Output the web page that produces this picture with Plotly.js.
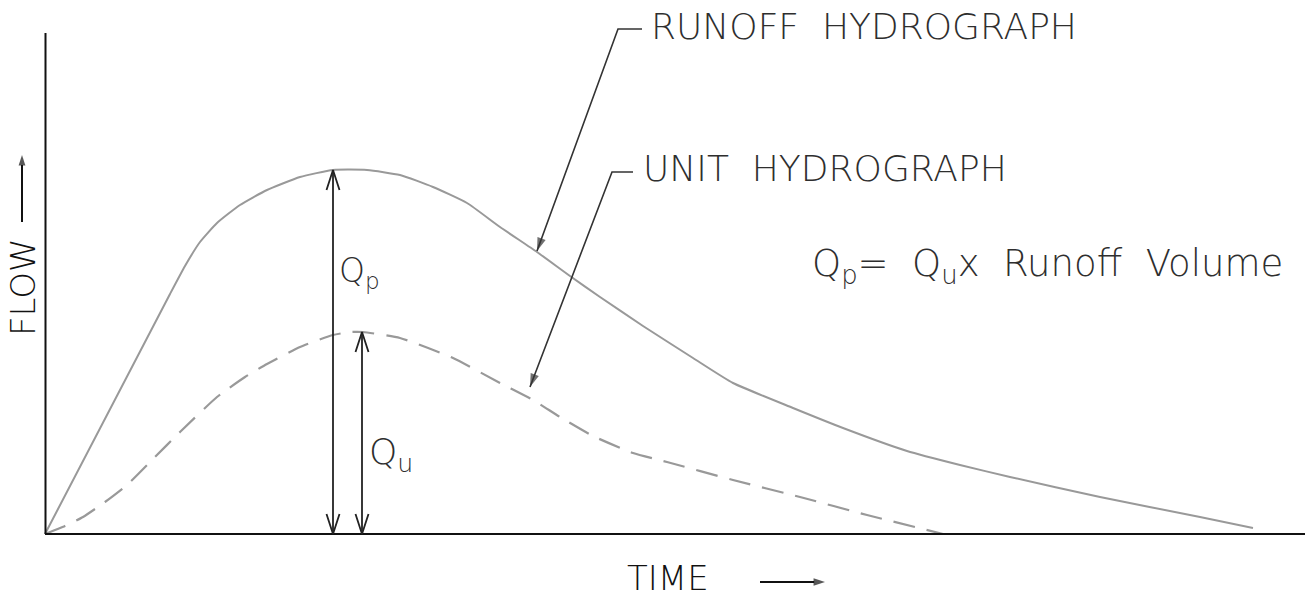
<!DOCTYPE html>
<html><head><meta charset="utf-8">
<script src="https://cdn.plot.ly/plotly-3.0.1.min.js"></script>
<style>html,body{margin:0;padding:0;background:#fff;}#chart{width:1314px;height:598px;}</style>
</head><body><div id="chart"></div>
<script>
// Runoff hydrograph (time, flow)
const runoffTime = [0, 125, 140, 155, 172, 195, 222, 255, 288, 322, 355, 388, 422, 455, 492, 525, 555, 598, 648, 688, 748, 798, 862, 915, 965, 1055, 1155, 1208];
const runoffFlow = [0, 240, 268, 292, 311, 329, 344, 357, 364, 364, 359, 347, 331, 307, 282, 258, 237, 208, 176, 151, 126, 106, 83, 69, 57, 37, 17, 6];
// Unit hydrograph (dashed)
const unitTime = [0, 20, 38, 60, 82, 108, 135, 172, 200, 222, 255, 288, 305, 318, 355, 408, 455, 488, 515, 548, 588, 622, 688, 755, 822, 898];
const unitFlow = [0, 8, 17, 32, 49, 75, 102, 137, 157, 170, 187, 199, 202, 202, 196, 176, 151, 134, 117, 98, 81, 72, 54, 37, 19, 0];
// Peak measurement positions
const qpTime = 288;
const quTime = 317;
const qpFlow = 364;
const quFlow = 202;
// Axis extents
const axisTop = 501;
const axisEnd = 1260;
// Labels
const labelRunoff = 'RUNOFF\u00a0\u00a0HYDROGRAPH';
const labelUnit = 'UNIT\u00a0\u00a0HYDROGRAPH';
const labelEq = 'Q<sub>p</sub>=\u00a0\u00a0Q<sub>u</sub>x\u00a0\u00a0Runoff\u00a0\u00a0Volume';
const labelX = 'TIME';
const labelY = 'FLOW';

const F = 'DejaVu Sans, Liberation Sans, sans-serif';
const txt = (size, color) => ({family: F, size: size, color: color || '#2e2e2e', weight: 200});
const curveColor = '#999';
const inkColor = '#222';

// open V arrowheads (tips at given points); dir +1 = pointing up
function chevrons(tips) {
  const xs = [], ys = [];
  tips.forEach(([x, y, dir]) => {
    xs.push(x - 6.5, x, x + 6.5, null);
    ys.push(y - dir * 20, y, y - dir * 20, null);
  });
  return {x: xs, y: ys, mode: 'lines', line: {color: inkColor, width: 1.8}, hoverinfo: 'skip'};
}
function leader(xs, ys, color, width, size) {
  const sizes = xs.map((_, i) => i === xs.length - 1 ? size : 0);
  return {x: xs, y: ys, mode: 'lines+markers', hoverinfo: 'skip',
    line: {color: color, width: width},
    marker: {symbol: 'arrow', angleref: 'previous', size: sizes, color: color, line: {width: 0}}};
}

const traces = [
  {x: runoffTime, y: runoffFlow, mode: 'lines', line: {color: curveColor, width: 2, shape: 'spline', smoothing: 0.5}, hoverinfo: 'skip'},
  {x: unitTime, y: unitFlow, mode: 'lines', line: {color: curveColor, width: 2.2, dash: '22px,12px', shape: 'spline', smoothing: 0.5}, hoverinfo: 'skip'},
  // axes
  {x: [0.5, 0.5, null, 0, axisEnd], y: [axisTop, 0, null, 0, 0], mode: 'lines', line: {color: '#111', width: 2}, hoverinfo: 'skip'},
  // Qp and Qu measurement lines
  {x: [qpTime, qpTime, null, quTime, quTime], y: [0, qpFlow, null, 0, quFlow], mode: 'lines', line: {color: inkColor, width: 1.8}, hoverinfo: 'skip'},
  chevrons([[qpTime, qpFlow, 1], [qpTime, 0, -1], [quTime, quFlow, 1], [quTime, 0, -1]]),
  // leader lines
  leader([597, 573, 492], [505, 505, 283], '#333', 1.6, 14),
  leader([588, 567, 485], [362, 362, 147], '#333', 1.6, 14),
  // axis direction arrows
  leader([-23, -23], [312, 379], '#111', 2, 11),
  leader([715, 780], [-48, -48], '#111', 2, 12)
];

function label(text, x, y, size, opts) {
  return Object.assign({x: x, y: y, xref: 'x', yref: 'y', text: text, showarrow: false,
    xanchor: 'left', yanchor: 'middle', font: txt(size)}, opts || {});
}

const annotations = [
  label(labelRunoff, 604, 507.5, 36),
  label(labelUnit, 596, 365.5, 36),
  label(labelEq, 765, 268, 37),
  label('Q<sub>p</sub>', 292, 262, 33),
  label('Q<sub>u</sub>', 322, 80, 36),
  label(labelX, 580, -43.5, 34, {font: txt(34, '#111')}),
  label(labelY, -22, 247, 34, {xanchor: 'center', textangle: -90, font: txt(34, '#111')})
];

const layout = {
  width: 1314, height: 598,
  margin: {l: 0, r: 0, t: 0, b: 0},
  paper_bgcolor: '#fff', plot_bgcolor: '#fff',
  showlegend: false,
  xaxis: {range: [-45, 1269], visible: false, fixedrange: true},
  yaxis: {range: [-64, 534], visible: false, fixedrange: true},
  annotations: annotations
};

Plotly.newPlot('chart', traces, layout, {staticPlot: true, displayModeBar: false});
</script>
</body></html>
